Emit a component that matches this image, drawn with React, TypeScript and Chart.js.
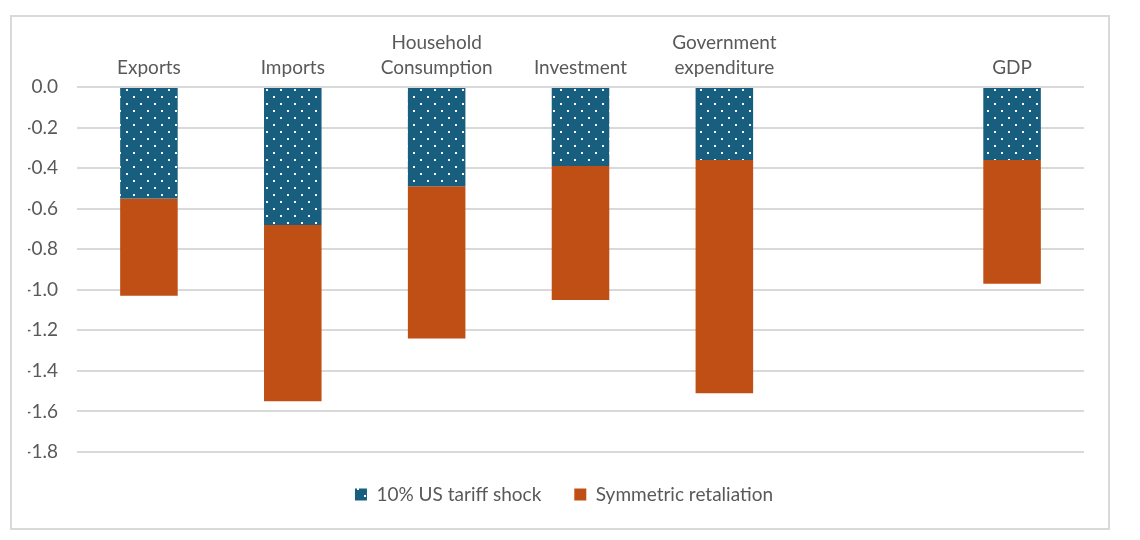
import { useEffect, useRef } from "react"
import { Chart, registerables } from "chart.js"

Chart.register(...registerables)

const categories = [
  "Exports",
  "Imports",
  ["Household", "Consumption"],
  "Investment",
  ["Government", "expenditure"],
  "",
  "GDP",
]
const tariffShock = [-0.55, -0.68, -0.49, -0.39, -0.36, null, -0.36]
const retaliation = [-0.48, -0.87, -0.75, -0.66, -1.15, null, -0.61]
const seriesNames = ["10% US tariff shock", "Symmetric retaliation"]

const BLUE = "#185f7f"
const ORANGE = "#c04f15"
const TEXT = "#595959"
const GRID = "#d9d9d9"
const FONT = "Lato, 'Open Sans', sans-serif"

// dotted fill like the Excel pattern
function dotPattern(ctx: CanvasRenderingContext2D) {
  const tile = document.createElement("canvas")
  tile.width = 14
  tile.height = 14
  const t = tile.getContext("2d")!
  t.fillStyle = BLUE
  t.fillRect(0, 0, 14, 14)
  t.fillStyle = "#ffffff"
  t.fillRect(2, 2, 2, 2)
  t.fillRect(9, 9, 2, 2)
  return ctx.createPattern(tile, "repeat") || BLUE
}

export default function App() {
  const chartRef = useRef<HTMLCanvasElement>(null)
  const chartInstance = useRef<Chart | null>(null)

  useEffect(() => {
    if (!chartRef.current) return
    const ctx = chartRef.current.getContext("2d")
    if (!ctx) return
    if (chartInstance.current) chartInstance.current.destroy()

    chartInstance.current = new Chart(ctx, {
      type: "bar",
      data: {
        labels: categories as any,
        datasets: [
          {
            label: seriesNames[0],
            data: tariffShock,
            backgroundColor: dotPattern(ctx),
            borderWidth: 0,
          },
          {
            label: seriesNames[1],
            data: retaliation,
            backgroundColor: ORANGE,
            borderWidth: 0,
          },
        ],
      },
      options: {
        animation: false,
        responsive: false,
        maintainAspectRatio: false,
        layout: { padding: { left: 16, right: 8, top: 0, bottom: 14 } },
        datasets: {
          bar: { categoryPercentage: 1, barPercentage: 0.4 },
        },
        scales: {
          x: {
            position: "top",
            stacked: true,
            grid: { display: false },
            border: { display: false },
            ticks: {
              color: TEXT,
              font: { family: FONT, size: 19, lineHeight: 1.35 },
              padding: -2,
              maxRotation: 0,
              autoSkip: false,
            },
            afterFit: (scale: any) => {
              scale.height = 70
            },
          },
          y: {
            stacked: true,
            min: -1.8,
            max: 0,
            grid: { color: GRID, lineWidth: 2, drawTicks: false },
            border: { display: false },
            ticks: {
              stepSize: 0.2,
              color: TEXT,
              font: { family: FONT, size: 19 },
              padding: 19,
              callback: (v: any) => Number(v).toFixed(1),
            },
            afterFit: (scale: any) => {
              scale.width = 49
            },
          },
          // empty right-hand spacer so the plot ends where the original does
          spacer: {
            type: "linear",
            position: "right",
            display: true,
            grid: { display: false },
            border: { display: false },
            ticks: { display: false },
            afterFit: (scale: any) => {
              scale.width = 16
            },
          },
        },
        plugins: {
          tooltip: { enabled: false },
          legend: {
            position: "bottom",
            labels: {
              color: TEXT,
              font: { family: FONT, size: 19 },
              boxWidth: 12,
              boxHeight: 12,
              padding: 33,
            },
          },
        },
      } as any,
    })

    return () => {
      if (chartInstance.current) {
        chartInstance.current.destroy()
        chartInstance.current = null
      }
    }
  }, [])

  return (
    <div
      style={{
        position: "absolute",
        left: 10,
        top: 15,
        width: 1100,
        height: 515,
        boxSizing: "border-box",
        border: `2px solid ${GRID}`,
        background: "#fff",
      }}
    >
      <canvas ref={chartRef} width={1096} height={511} style={{ display: "block" }} />
    </div>
  )
}
